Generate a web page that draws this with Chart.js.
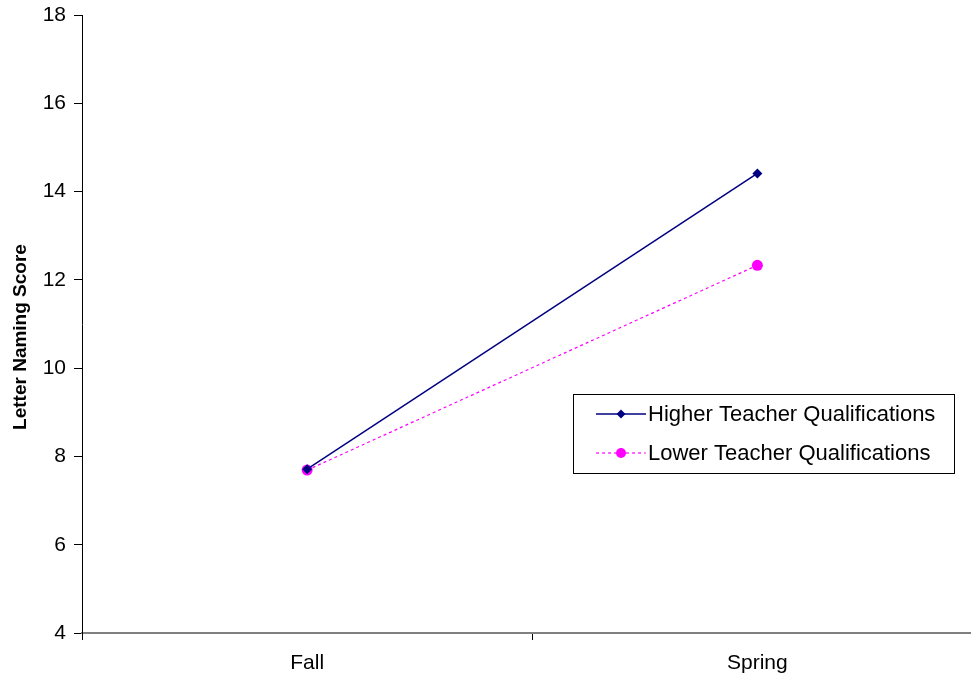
<!DOCTYPE html>
<html>
<head>
<meta charset="utf-8">
<script src="https://cdn.jsdelivr.net/npm/chart.js@4/dist/chart.umd.min.js"></script>
<style>
  html, body { margin: 0; padding: 0; background: #fff; overflow: hidden; }
  #wrap { width: 971px; height: 679px; position: relative; overflow: hidden; }
  #c { position: absolute; left: 0; top: 0; }
</style>
</head>
<body>
<div id="wrap"><canvas id="c" width="988" height="679"></canvas></div>
<script>
// Letter naming scores, fall vs. spring, by teacher qualification group
const seasons = ['Fall', 'Spring'];
const higherQual = [7.71, 14.41];
const lowerQual = [7.69, 12.33];
const seriesNames = ['Higher Teacher Qualifications', 'Lower Teacher Qualifications'];
const yTitle = 'Letter Naming Score';

const FONT = '"Liberation Sans", Arial, sans-serif';

// Rotated y-axis title drawn beside the value axis
const yAxisTitle = {
  id: 'yAxisTitle',
  afterDraw(chart) {
    const ctx = chart.ctx;
    ctx.save();
    ctx.translate(21, 337);
    ctx.rotate(-Math.PI / 2);
    ctx.font = 'bold 19px ' + FONT;
    ctx.fillStyle = '#000';
    ctx.textAlign = 'center';
    ctx.textBaseline = 'middle';
    ctx.fillText(yTitle, 0, 0);
    ctx.restore();
  }
};

// Boxed legend drawn inside the plot area, lower right
const boxLegend = {
  id: 'boxLegend',
  afterDraw(chart) {
    const ctx = chart.ctx;
    const x0 = 573, y0 = 394, w = 381, h = 79;
    ctx.save();
    ctx.fillStyle = '#fff';
    ctx.fillRect(x0, y0, w, h);
    ctx.strokeStyle = '#000';
    ctx.lineWidth = 1;
    ctx.strokeRect(x0 + 0.5, y0 + 0.5, w, h);
    ctx.font = '22px ' + FONT;
    ctx.textBaseline = 'middle';
    chart.data.datasets.forEach((ds, i) => {
      const cy = y0 + 20 + i * 39;
      const mx = x0 + 48;
      ctx.strokeStyle = ds.borderColor;
      ctx.lineWidth = ds.borderWidth;
      ctx.setLineDash(ds.borderDash || []);
      ctx.beginPath();
      ctx.moveTo(x0 + 23, cy);
      ctx.lineTo(x0 + 73, cy);
      ctx.stroke();
      ctx.setLineDash([]);
      ctx.fillStyle = ds.pointBackgroundColor;
      ctx.beginPath();
      if (ds.pointStyle === 'rectRot') {
        const r = 4.5;
        ctx.moveTo(mx, cy - r);
        ctx.lineTo(mx + r, cy);
        ctx.lineTo(mx, cy + r);
        ctx.lineTo(mx - r, cy);
        ctx.closePath();
      } else {
        ctx.arc(mx, cy, 5, 0, Math.PI * 2);
      }
      ctx.fill();
      ctx.fillStyle = '#000';
      ctx.fillText(ds.label, x0 + 75, cy + 1);
    });
    ctx.restore();
  }
};

new Chart(document.getElementById('c'), {
  type: 'line',
  data: {
    labels: seasons,
    datasets: [
      {
        label: seriesNames[0],
        data: higherQual,
        borderColor: '#000080',
        borderWidth: 1.5,
        pointStyle: 'rectRot',
        pointRadius: 5,
        pointBackgroundColor: '#000080',
        pointBorderColor: '#000080',
        pointBorderWidth: 0
      },
      {
        label: seriesNames[1],
        data: lowerQual,
        borderColor: '#FF00FF',
        borderWidth: 1.2,
        borderDash: [3, 3],
        pointStyle: 'circle',
        pointRadius: 5.5,
        pointBackgroundColor: '#FF00FF',
        pointBorderColor: '#FF00FF',
        pointBorderWidth: 0
      }
    ]
  },
  options: {
    responsive: false,
    animation: false,
    layout: { padding: { top: 15, right: 0, left: 0, bottom: 0 } },
    plugins: {
      legend: { display: false },
      tooltip: { enabled: false }
    },
    scales: {
      x: {
        offset: true,
        grid: {
          offset: true,
          drawOnChartArea: false,
          drawTicks: true,
          tickLength: 7,
          color: '#000'
        },
        border: { color: '#808080', width: 2 },
        ticks: {
          color: '#000',
          font: { family: FONT, size: 21 },
          padding: 11,
          maxRotation: 0
        },
        afterFit(scale) { scale.height = 46; }
      },
      y: {
        min: 4,
        max: 18,
        grid: {
          drawOnChartArea: false,
          drawTicks: true,
          tickLength: 8,
          color: '#000'
        },
        border: { color: '#000', width: 1 },
        ticks: {
          stepSize: 2,
          color: '#000',
          font: { family: FONT, size: 21 },
          padding: 8
        },
        afterFit(scale) {
          scale.width = 82;
          scale.paddingTop = 0;
          scale.paddingBottom = 0;
        }
      }
    }
  },
  plugins: [yAxisTitle, boxLegend]
});
</script>
</body>
</html>
